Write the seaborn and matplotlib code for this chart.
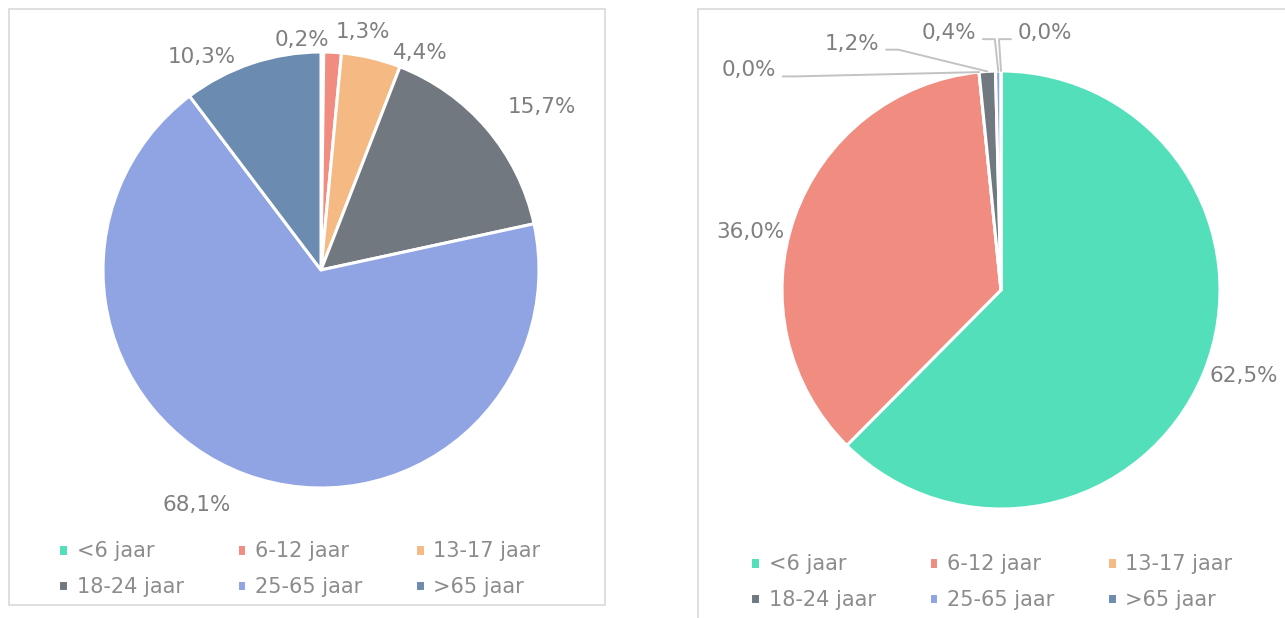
import numpy as np
import seaborn as sns
import matplotlib.pyplot as plt
from matplotlib.patches import Rectangle

# data
categories = ['<6 jaar', '6-12 jaar', '13-17 jaar', '18-24 jaar', '25-65 jaar', '>65 jaar']
left_values = [0.2, 1.3, 4.4, 15.7, 68.1, 10.3]
right_values = [62.5, 36.0, 0.0, 1.2, 0.4, 0.0]
colors = ['#52dfba', '#f08c80', '#f5b983', '#717880', '#90a4e3', '#6c8bb0']

sns.set_theme(style='white')
plt.rcParams['font.family'] = ['DejaVu Sans']

H = 618
fig = plt.figure(figsize=(12.85, 6.18), dpi=100)
ax = fig.add_axes([0, 0, 1, 1])

label_color = '#7f7f7f'


def fmt(v):
    return f'{v:.1f}'.replace('.', ',') + '%'


def draw_pie(values, cx, cy, r, nudges, leaders):
    wedges, _ = ax.pie(values, colors=colors, startangle=90, counterclock=False,
                       radius=r, center=(cx, H - cy),
                       wedgeprops=dict(edgecolor='white', linewidth=2.2))
    for w, v, (dx, dy), side in zip(wedges, values, nudges, leaders):
        ang = np.deg2rad((w.theta1 + w.theta2) / 2)
        tx = cx + 1.15 * r * np.cos(ang) + dx
        ty = H - cy + 1.15 * r * np.sin(ang) + dy
        ax.text(tx, ty, fmt(v), ha='center', va='center', fontsize=15.5, color=label_color)
        if side:
            ex, ey = cx + r * np.cos(ang), H - cy + r * np.sin(ang)
            sx, sy = tx + side * 34, ty - 6
            ax.plot([sx, sx + side * 12, ex], [sy, sy, ey], color='#c3c3c3', lw=1.4)
    return wedges


# left pie
left_nudges = [(-21, -21), (29, -12), (42, -27), (30, 0), (-37, 0), (-40, -25)]
wl = draw_pie(left_values, 321, 270, 218, left_nudges, [0] * 6)

# right pie
right_nudges = [(10, 10), (-13, -26), (-227, -31), (-133, -5), (-49, 5), (44, 5)]
wr = draw_pie(right_values, 1001, 290, 219, right_nudges, [0, 0, 1, 1, 1, -1])

# boxes
ax.add_patch(Rectangle((9, H - 605), 596, 596, fill=False, ec='#d9d9d9', lw=1.2))
ax.add_patch(Rectangle((698, -10), 700, H - 9 + 10, fill=False, ec='#d9d9d9', lw=1.2))

order = [0, 3, 1, 4, 2, 5]
legend_kw = dict(ncol=3, frameon=False, fontsize=15, handlelength=0.45, handleheight=0.45,
                 handletextpad=0.42, columnspacing=2.55, labelspacing=0.74, borderpad=0,
                 loc='upper left', bbox_transform=ax.transData, labelcolor='#8c8c8c')
leg1 = ax.legend([wl[i] for i in order], [categories[i] for i in order],
                 bbox_to_anchor=(48, H - 531), **legend_kw)
ax.add_artist(leg1)
ax.legend([wr[i] for i in order], [categories[i] for i in order],
          bbox_to_anchor=(740, H - 544), **legend_kw)

ax.set_xlim(0, 1285)
ax.set_ylim(0, H)
ax.set_aspect('equal')
ax.axis('off')

fig.savefig('out.png', dpi=100)
